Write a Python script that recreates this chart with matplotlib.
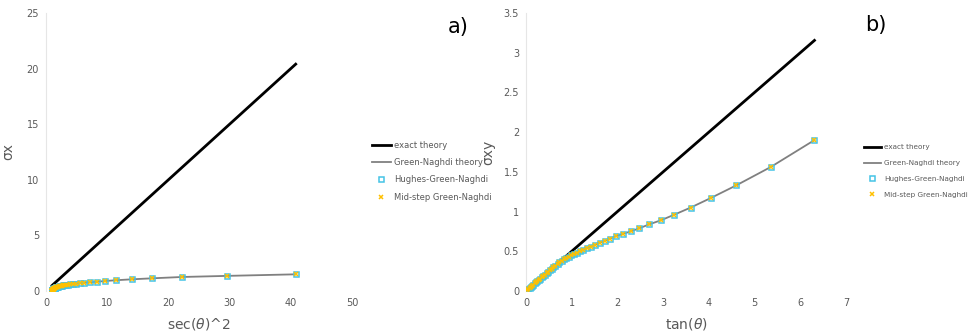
import matplotlib
matplotlib.use("Agg")
import matplotlib.pyplot as plt

# panel a): sigma_x against sec(theta)^2
sec2 = [40.8, 29.6, 22.2, 17.3, 14.0, 11.5, 9.7, 8.3, 7.15, 6.24, 5.49, 4.88,
        4.39, 3.96, 3.59, 3.28, 3.02, 2.77, 2.56, 2.39, 2.23, 2.10, 1.98, 1.86,
        1.77, 1.69, 1.61, 1.53, 1.48, 1.41, 1.36, 1.31, 1.27, 1.23, 1.20, 1.17,
        1.14, 1.12, 1.10, 1.08, 1.06, 1.05, 1.04, 1.03, 1.02, 1.01, 1.01, 1.00, 1.00]
sigma_x = [1.50, 1.36, 1.26, 1.14, 1.05, 0.97, 0.90, 0.83, 0.78, 0.74, 0.70, 0.67,
           0.64, 0.61, 0.58, 0.56, 0.53, 0.51, 0.48, 0.46, 0.44, 0.42, 0.40, 0.38,
           0.36, 0.34, 0.32, 0.30, 0.28, 0.26, 0.24, 0.22, 0.20, 0.18, 0.17, 0.15,
           0.14, 0.12, 0.11, 0.10, 0.08, 0.07, 0.06, 0.05, 0.04, 0.03, 0.02, 0.01, 0.0]
exact_sec2 = [1.0, 40.8]
exact_sigma_x = [0.5, 20.4]

# panel b): sigma_xy against tan(theta)
tan_t = [6.31, 5.35, 4.6, 4.04, 3.6, 3.24, 2.95, 2.7, 2.48, 2.29, 2.12, 1.97,
         1.84, 1.72, 1.61, 1.51, 1.42, 1.33, 1.25, 1.18, 1.11, 1.05, 0.99, 0.93,
         0.88, 0.83, 0.78, 0.73, 0.69, 0.64, 0.60, 0.56, 0.52, 0.48, 0.45, 0.41,
         0.38, 0.34, 0.31, 0.28, 0.25, 0.22, 0.19, 0.16, 0.13, 0.10, 0.08, 0.05, 0.02]
sigma_xy = [1.90, 1.56, 1.33, 1.17, 1.05, 0.96, 0.89, 0.84, 0.79, 0.75, 0.72, 0.69,
            0.66, 0.63, 0.61, 0.58, 0.56, 0.54, 0.52, 0.50, 0.48, 0.465, 0.45, 0.43,
            0.415, 0.40, 0.38, 0.36, 0.34, 0.32, 0.30, 0.28, 0.26, 0.24, 0.225, 0.205,
            0.19, 0.17, 0.155, 0.14, 0.125, 0.11, 0.095, 0.08, 0.065, 0.05, 0.04, 0.025, 0.01]
exact_tan = [0.0, 6.31]
exact_sigma_xy = [0.0, 3.155]

labels = ["exact theory", "Green-Naghdi theory", "Hughes-Green-Naghdi", "Mid-step Green-Naghdi"]
GREY_TXT = "#595959"

fig = plt.figure(figsize=(9.77, 3.33), dpi=100)
W, H = 977, 333


def px_axes(x0, x1, y_top, y_bot):
    return fig.add_axes([x0 / W, 1 - y_bot / H, (x1 - x0) / W, (y_bot - y_top) / H])


def draw(ax, ex, ey, x, y):
    l1, = ax.plot(ex, ey, color="black", lw=2.0, zorder=2)
    l2, = ax.plot(x, y, color="#808080", lw=1.3, zorder=3)
    l3, = ax.plot(x, y, ls="none", marker="s", ms=3.6, mfc="none", mec="#45c3e6", mew=1.1, zorder=4)
    l4, = ax.plot(x, y, ls="none", marker="x", ms=3.0, color="#ffc000", mew=1.1, zorder=5)
    for s in ("top", "right", "bottom"):
        ax.spines[s].set_visible(False)
    ax.spines["left"].set_color("#e6e6e6")
    ax.tick_params(length=0, labelsize=7, colors=GREY_TXT, pad=5)
    return [l1, l2, l3, l4]


ax1 = px_axes(46, 352, 13, 291)
h = draw(ax1, exact_sec2, exact_sigma_x, sec2, sigma_x)
ax1.set_xlim(0, 50)
ax1.set_ylim(0, 25)
ax1.set_xticks(range(0, 51, 10))
ax1.set_yticks(range(0, 26, 5))
ax1.set_xlabel("sec($\\theta$)^2", fontsize=10, color=GREY_TXT, labelpad=6)
ax1.set_ylabel("σx", fontsize=10, color=GREY_TXT, labelpad=8)
fig.text(458 / W, 1 - 27 / H, "a)", fontsize=15, ha="center", va="center")
fig.legend(h, labels, loc="center left", bbox_to_anchor=(368 / W, 1 - 171 / H),
           frameon=False, fontsize=6, labelcolor=GREY_TXT, handlelength=2.2,
           handletextpad=0.4, labelspacing=1.0, borderpad=0)

ax2 = px_axes(526, 846, 13, 291)
h = draw(ax2, exact_tan, exact_sigma_xy, tan_t, sigma_xy)
ax2.set_xlim(0, 7)
ax2.set_ylim(0, 3.5)
ax2.set_xticks(range(0, 8))
ax2.set_yticks([0, 0.5, 1, 1.5, 2, 2.5, 3, 3.5])
ax2.set_yticklabels(["0", "0.5", "1", "1.5", "2", "2.5", "3", "3.5"])
ax2.set_xlabel("tan($\\theta$)", fontsize=10, color=GREY_TXT, labelpad=6)
ax2.set_ylabel("σxy", fontsize=10, color=GREY_TXT, labelpad=6)
fig.text(876 / W, 1 - 25 / H, "b)", fontsize=15, ha="center", va="center")
fig.legend(h, labels, loc="center left", bbox_to_anchor=(860 / W, 1 - 171 / H),
           frameon=False, fontsize=5.2, labelcolor=GREY_TXT, handlelength=2.4,
           handletextpad=0.4, labelspacing=1.35, borderpad=0)

fig.savefig("out.png", dpi=100)
